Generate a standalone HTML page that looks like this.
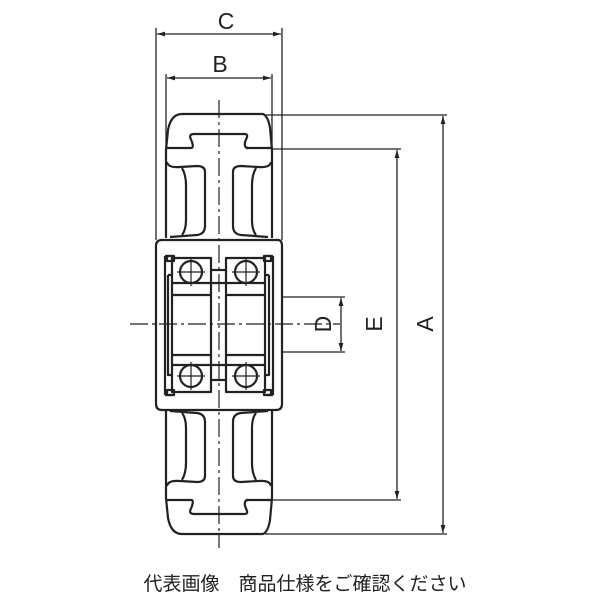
<!DOCTYPE html>
<html><head><meta charset="utf-8"><style>
html,body{margin:0;padding:0;background:#fff;width:600px;height:600px;overflow:hidden}
svg{display:block}
</style></head><body>
<svg width="600" height="600" viewBox="0 0 600 600" xmlns="http://www.w3.org/2000/svg">
<defs>
<marker id="ar" viewBox="0 0 10 6" refX="10" refY="3" markerWidth="8" markerHeight="5" orient="auto-start-reverse" markerUnits="userSpaceOnUse"><path d="M0,0 L10,3 L0,6 z" fill="#222"/></marker>
</defs>
<g stroke="#222" fill="none" stroke-width="1.3">
<!-- C dim -->
<line x1="156" y1="28" x2="156" y2="240"/>
<line x1="282" y1="28" x2="282" y2="240"/>
<line x1="157" y1="34" x2="281" y2="34" marker-start="url(#ar)" marker-end="url(#ar)"/>
<!-- B dim -->
<line x1="166" y1="74" x2="166" y2="150"/>
<line x1="272" y1="74" x2="272" y2="150"/>
<line x1="167" y1="78" x2="271" y2="78" marker-start="url(#ar)" marker-end="url(#ar)"/>
<!-- A -->
<line x1="265" y1="115" x2="447" y2="115"/>
<line x1="265" y1="534" x2="447" y2="534"/>
<line x1="443" y1="116" x2="443" y2="533" marker-start="url(#ar)" marker-end="url(#ar)"/>
<!-- E -->
<line x1="272" y1="149" x2="401" y2="149"/>
<line x1="272" y1="500" x2="401" y2="500"/>
<line x1="397" y1="150" x2="397" y2="499" marker-start="url(#ar)" marker-end="url(#ar)"/>
<!-- D -->
<line x1="282" y1="297" x2="345" y2="297"/>
<line x1="282" y1="352" x2="345" y2="352"/>
<line x1="341" y1="298" x2="341" y2="351" marker-start="url(#ar)" marker-end="url(#ar)"/>
</g>
<g stroke="#222" fill="none" stroke-width="2.2" stroke-linejoin="round">
<!-- top tire -->
<path d="M166,150 L168,130 Q171,114 182,114 L263,114 Q268,116 270,128 L272,150"/>
<line x1="166" y1="148" x2="191" y2="148"/>
<line x1="246" y1="148" x2="272" y2="148"/>
<path d="M191,148 Q194,148 192,142 L190,137 Q190,134 194,134 L244,134 Q248,134 247,137 L245,142 Q244,148 248,148"/>
<path d="M166,150 L166,238 M272,150 L272,238"/>
<path d="M167,162 Q168,168 180,167 L197,166 Q205,166 205,172 L205,226 Q205,234 197,235 L170,237"/>
<path d="M271,162 Q270,168 258,167 L241,166 Q233,166 233,172 L233,226 Q233,234 241,235 L268,237"/>
<path d="M182,168 Q186,175 186,185 L186,220 Q186,230 182,235"/>
<path d="M256,168 Q252,175 252,185 L252,220 Q252,230 256,235"/>
<!-- bottom tire (mirror about y=324) -->
<path d="M166,498 L168,518 Q171,534 182,534 L263,534 Q268,532 270,520 L272,498"/>
<line x1="166" y1="500" x2="191" y2="500"/>
<line x1="246" y1="500" x2="272" y2="500"/>
<path d="M191,500 Q194,500 192,506 L190,511 Q190,514 194,514 L244,514 Q248,514 247,511 L245,506 Q244,500 248,500"/>
<path d="M166,498 L166,410 M272,498 L272,410"/>
<path d="M167,486 Q168,480 180,481 L197,482 Q205,482 205,476 L205,422 Q205,414 197,413 L170,411"/>
<path d="M271,486 Q270,480 258,481 L241,482 Q233,482 233,476 L233,422 Q233,414 241,413 L268,411"/>
<path d="M182,480 Q186,473 186,463 L186,428 Q186,418 182,413"/>
<path d="M256,480 Q252,473 252,463 L252,428 Q252,418 256,413"/>
<!-- hub outer -->
<path d="M160,240 L278,240 Q282,240 282,246 L282,404 Q282,410 276,410 L162,410 Q156,410 156,404 L156,246 Q156,240 162,240"/>
<path d="M165,256 L165,395 M273,256 L273,395"/>
<path d="M165,256 L172,256 M266,256 L273,256 M165,395 L172,395 M266,395 L273,395"/>
<rect x="167" y="256" width="7" height="5"/><rect x="264" y="256" width="7" height="5"/>
<rect x="167" y="390" width="7" height="5"/><rect x="264" y="390" width="7" height="5"/>
<!-- bearings -->
<rect x="172" y="258" width="39" height="134"/>
<rect x="226" y="258" width="39" height="134"/>
<line x1="172" y1="283" x2="211" y2="283"/><line x1="226" y1="283" x2="265" y2="283"/>
<line x1="172" y1="365" x2="211" y2="365"/><line x1="226" y1="365" x2="265" y2="365"/>
<line x1="172" y1="295" x2="211" y2="295"/><line x1="226" y1="295" x2="265" y2="295"/>
<line x1="172" y1="355" x2="211" y2="355"/><line x1="226" y1="355" x2="265" y2="355"/>
<line x1="211" y1="270" x2="226" y2="270"/><line x1="211" y1="380" x2="226" y2="380"/>
<line x1="211" y1="283" x2="226" y2="283"/><line x1="211" y1="365" x2="226" y2="365"/>
<path d="M168,275 L168,375 L172,375 M168,275 L172,275"/>
<path d="M269,275 L269,375 L265,375 M269,275 L265,275"/>
<circle cx="191" cy="272" r="11"/><circle cx="246" cy="272" r="11"/>
<circle cx="191" cy="376" r="11"/><circle cx="246" cy="376" r="11"/>
</g>
<g stroke="#222" stroke-width="1.2">
<line x1="191" y1="258" x2="191" y2="286"/><line x1="177" y1="272" x2="205" y2="272"/>
<line x1="246" y1="258" x2="246" y2="286"/><line x1="232" y1="272" x2="260" y2="272"/>
<line x1="191" y1="362" x2="191" y2="390"/><line x1="177" y1="376" x2="205" y2="376"/>
<line x1="246" y1="362" x2="246" y2="390"/><line x1="232" y1="376" x2="260" y2="376"/>
<line x1="219" y1="100" x2="219" y2="548" stroke-dasharray="18,4,3,4"/>
<line x1="130" y1="324" x2="340" y2="324" stroke-dasharray="18,4,3,4"/>
</g>
<g font-family="Liberation Sans, sans-serif" font-size="23" fill="#222" text-anchor="middle">
<text x="226" y="29">C</text>
<text x="220" y="72">B</text>
<text transform="translate(331,324) rotate(-90)">D</text>
<text transform="translate(382,324) rotate(-90)">E</text>
<text transform="translate(433,324) rotate(-90)">A</text>
</g>
<text x="305" y="590" font-family="Liberation Sans, 'Noto Sans CJK JP', sans-serif" font-size="19" fill="#222" text-anchor="middle">代表画像　商品仕様をご確認ください</text>
</svg>
</body></html>
